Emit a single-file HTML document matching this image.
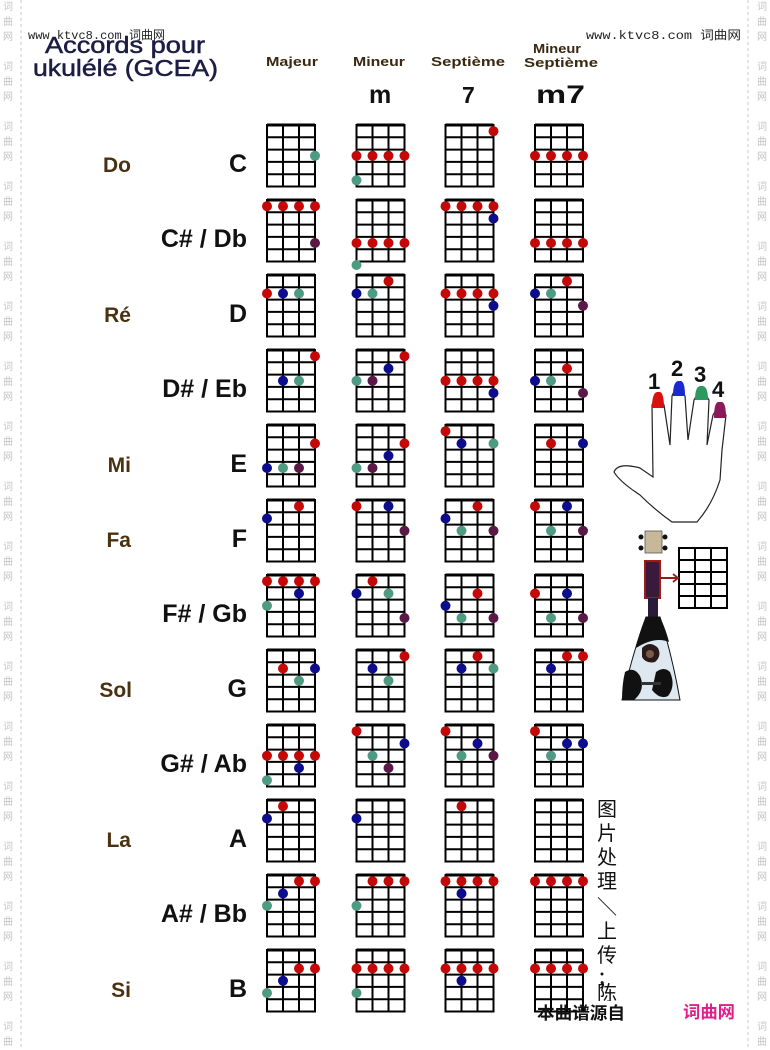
<!DOCTYPE html>
<html><head><meta charset="utf-8"><style>
html,body{margin:0;padding:0;background:#fff;}
svg{display:block;}
text{font-family:"Liberation Sans","Noto Sans CJK SC",sans-serif;}
.r{fill:#c40808}.b{fill:#0c0c8c}.g{fill:#4f9a82}.p{fill:#5a1846}
.wm{fill:#c4c4c4;font-size:10px;font-family:"Noto Sans CJK SC",sans-serif;}
.ch{font-size:25px;font-weight:bold;fill:#111;text-anchor:end;}
.so{font-size:21px;font-weight:bold;fill:#4a3210;text-anchor:end;}
.hd{font-size:13px;font-weight:bold;fill:#3a2810;}
</style></head><body>
<svg width="770" height="1050" viewBox="0 0 770 1050" xmlns="http://www.w3.org/2000/svg">
<defs>
<g id="gr" stroke="#000" stroke-width="2" fill="none">
<rect x="0" y="0" width="48" height="61.5" fill="#fff"/>
<line x1="16" y1="0" x2="16" y2="61.5"/><line x1="32" y1="0" x2="32" y2="61.5"/>
<line x1="0" y1="12.3" x2="48" y2="12.3"/><line x1="0" y1="24.6" x2="48" y2="24.6"/>
<line x1="0" y1="36.9" x2="48" y2="36.9"/><line x1="0" y1="49.2" x2="48" y2="49.2"/>
<line x1="0" y1="0" x2="48" y2="0" stroke-width="3"/>
</g>
<g id="wmg"><text class="wm" x="3" y="10">词</text><text class="wm" x="3" y="25">曲</text><text class="wm" x="3" y="40">网</text></g>
</defs>

<line x1="21" y1="0" x2="21" y2="1050" stroke="#c8c8c8" stroke-dasharray="3,3"/>
<line x1="748" y1="0" x2="748" y2="1050" stroke="#c8c8c8" stroke-dasharray="3,3"/>
<g>
<use href="#wmg" y="0"/><use href="#wmg" y="60"/><use href="#wmg" y="120"/><use href="#wmg" y="180"/><use href="#wmg" y="240"/><use href="#wmg" y="300"/><use href="#wmg" y="360"/><use href="#wmg" y="420"/><use href="#wmg" y="480"/><use href="#wmg" y="540"/><use href="#wmg" y="600"/><use href="#wmg" y="660"/><use href="#wmg" y="720"/><use href="#wmg" y="780"/><use href="#wmg" y="840"/><use href="#wmg" y="900"/><use href="#wmg" y="960"/><use href="#wmg" y="1020"/>
</g>
<g transform="translate(754,0)">
<use href="#wmg" y="0"/><use href="#wmg" y="60"/><use href="#wmg" y="120"/><use href="#wmg" y="180"/><use href="#wmg" y="240"/><use href="#wmg" y="300"/><use href="#wmg" y="360"/><use href="#wmg" y="420"/><use href="#wmg" y="480"/><use href="#wmg" y="540"/><use href="#wmg" y="600"/><use href="#wmg" y="660"/><use href="#wmg" y="720"/><use href="#wmg" y="780"/><use href="#wmg" y="840"/><use href="#wmg" y="900"/><use href="#wmg" y="960"/><use href="#wmg" y="1020"/>
</g>

<text x="45" y="53" font-size="23" fill="#1c1c44" stroke="#1c1c44" stroke-width="0.5" textLength="160" lengthAdjust="spacingAndGlyphs">Accords pour</text>
<text x="33" y="76" font-size="23" fill="#1c1c44" stroke="#1c1c44" stroke-width="0.5" textLength="185" lengthAdjust="spacingAndGlyphs">ukulélé (GCEA)</text>
<text x="28" y="39" font-size="12" fill="#222" style="font-family:'Liberation Mono','Noto Sans CJK SC',monospace" textLength="137" lengthAdjust="spacingAndGlyphs">www.ktvc8.com 词曲网</text>
<text x="586" y="39" font-size="12" fill="#222" style="font-family:'Liberation Mono','Noto Sans CJK SC',monospace" textLength="155" lengthAdjust="spacingAndGlyphs">www.ktvc8.com 词曲网</text>

<text class="hd" x="266" y="66" textLength="52" lengthAdjust="spacingAndGlyphs">Majeur</text>
<text class="hd" x="353" y="66" textLength="52" lengthAdjust="spacingAndGlyphs">Mineur</text>
<text class="hd" x="431" y="66" textLength="74" lengthAdjust="spacingAndGlyphs">Septième</text>
<text class="hd" x="533" y="53" textLength="48" lengthAdjust="spacingAndGlyphs">Mineur</text>
<text class="hd" x="524" y="67" textLength="74" lengthAdjust="spacingAndGlyphs">Septième</text>
<text x="369" y="103" font-size="25" font-weight="bold" fill="#111">m</text>
<text x="462" y="103" font-size="23" font-weight="bold" fill="#111">7</text>
<text x="536" y="103" font-size="25" font-weight="bold" fill="#111" textLength="49" lengthAdjust="spacingAndGlyphs">m7</text>

<text class="so" x="131" y="172">Do</text><text class="ch" x="247" y="172">C</text>
<text class="ch" x="247" y="247">C# / Db</text>
<text class="so" x="131" y="322">Ré</text><text class="ch" x="247" y="322">D</text>
<text class="ch" x="247" y="397">D# / Eb</text>
<text class="so" x="131" y="472">Mi</text><text class="ch" x="247" y="472">E</text>
<text class="so" x="131" y="547">Fa</text><text class="ch" x="247" y="547">F</text>
<text class="ch" x="247" y="622">F# / Gb</text>
<text class="so" x="132" y="697">Sol</text><text class="ch" x="247" y="697">G</text>
<text class="ch" x="247" y="772">G# / Ab</text>
<text class="so" x="131" y="847">La</text><text class="ch" x="247" y="847">A</text>
<text class="ch" x="247" y="922">A# / Bb</text>
<text class="so" x="131" y="997">Si</text><text class="ch" x="247" y="997">B</text>

<g>
<g transform="translate(267,125)"><use href="#gr"/><circle class="g" cx="48" cy="30.8" r="5"/></g>
<g transform="translate(356.5,125)"><use href="#gr"/><circle class="r" cx="0" cy="30.8" r="5"/><circle class="r" cx="16" cy="30.8" r="5"/><circle class="r" cx="32" cy="30.8" r="5"/><circle class="r" cx="48" cy="30.8" r="5"/><circle class="g" cx="0" cy="55.3" r="5"/></g>
<g transform="translate(445.5,125)"><use href="#gr"/><circle class="r" cx="48" cy="6.2" r="5"/></g>
<g transform="translate(535,125)"><use href="#gr"/><circle class="r" cx="0" cy="30.8" r="5"/><circle class="r" cx="16" cy="30.8" r="5"/><circle class="r" cx="32" cy="30.8" r="5"/><circle class="r" cx="48" cy="30.8" r="5"/></g>
<g transform="translate(267,200)"><use href="#gr"/><circle class="r" cx="0" cy="6.2" r="5"/><circle class="r" cx="16" cy="6.2" r="5"/><circle class="r" cx="32" cy="6.2" r="5"/><circle class="r" cx="48" cy="6.2" r="5"/><circle class="p" cx="48" cy="43" r="5"/></g>
<g transform="translate(356.5,200)"><use href="#gr"/><circle class="r" cx="0" cy="43" r="5"/><circle class="r" cx="16" cy="43" r="5"/><circle class="r" cx="32" cy="43" r="5"/><circle class="r" cx="48" cy="43" r="5"/><circle class="g" cx="0" cy="65" r="5"/></g>
<g transform="translate(445.5,200)"><use href="#gr"/><circle class="r" cx="0" cy="6.2" r="5"/><circle class="r" cx="16" cy="6.2" r="5"/><circle class="r" cx="32" cy="6.2" r="5"/><circle class="r" cx="48" cy="6.2" r="5"/><circle class="b" cx="48" cy="18.5" r="5"/></g>
<g transform="translate(535,200)"><use href="#gr"/><circle class="r" cx="0" cy="43" r="5"/><circle class="r" cx="16" cy="43" r="5"/><circle class="r" cx="32" cy="43" r="5"/><circle class="r" cx="48" cy="43" r="5"/></g>
<g transform="translate(267,275)"><use href="#gr"/><circle class="r" cx="0" cy="18.5" r="5"/><circle class="b" cx="16" cy="18.5" r="5"/><circle class="g" cx="32" cy="18.5" r="5"/></g>
<g transform="translate(356.5,275)"><use href="#gr"/><circle class="r" cx="32" cy="6.2" r="5"/><circle class="b" cx="0" cy="18.5" r="5"/><circle class="g" cx="16" cy="18.5" r="5"/></g>
<g transform="translate(445.5,275)"><use href="#gr"/><circle class="r" cx="0" cy="18.5" r="5"/><circle class="r" cx="16" cy="18.5" r="5"/><circle class="r" cx="32" cy="18.5" r="5"/><circle class="r" cx="48" cy="18.5" r="5"/><circle class="b" cx="48" cy="30.8" r="5"/></g>
<g transform="translate(535,275)"><use href="#gr"/><circle class="r" cx="32" cy="6.2" r="5"/><circle class="b" cx="0" cy="18.5" r="5"/><circle class="g" cx="16" cy="18.5" r="5"/><circle class="p" cx="48" cy="30.8" r="5"/></g>
<g transform="translate(267,350)"><use href="#gr"/><circle class="r" cx="48" cy="6.2" r="5"/><circle class="b" cx="16" cy="30.8" r="5"/><circle class="g" cx="32" cy="30.8" r="5"/></g>
<g transform="translate(356.5,350)"><use href="#gr"/><circle class="r" cx="48" cy="6.2" r="5"/><circle class="b" cx="32" cy="18.5" r="5"/><circle class="g" cx="0" cy="30.8" r="5"/><circle class="p" cx="16" cy="30.8" r="5"/></g>
<g transform="translate(445.5,350)"><use href="#gr"/><circle class="r" cx="0" cy="30.8" r="5"/><circle class="r" cx="16" cy="30.8" r="5"/><circle class="r" cx="32" cy="30.8" r="5"/><circle class="r" cx="48" cy="30.8" r="5"/><circle class="b" cx="48" cy="43" r="5"/></g>
<g transform="translate(535,350)"><use href="#gr"/><circle class="r" cx="32" cy="18.5" r="5"/><circle class="b" cx="0" cy="30.8" r="5"/><circle class="g" cx="16" cy="30.8" r="5"/><circle class="p" cx="48" cy="43" r="5"/></g>
<g transform="translate(267,425)"><use href="#gr"/><circle class="r" cx="48" cy="18.5" r="5"/><circle class="b" cx="0" cy="43" r="5"/><circle class="g" cx="16" cy="43" r="5"/><circle class="p" cx="32" cy="43" r="5"/></g>
<g transform="translate(356.5,425)"><use href="#gr"/><circle class="r" cx="48" cy="18.5" r="5"/><circle class="b" cx="32" cy="30.8" r="5"/><circle class="g" cx="0" cy="43" r="5"/><circle class="p" cx="16" cy="43" r="5"/></g>
<g transform="translate(445.5,425)"><use href="#gr"/><circle class="r" cx="0" cy="6.2" r="5"/><circle class="b" cx="16" cy="18.5" r="5"/><circle class="g" cx="48" cy="18.5" r="5"/></g>
<g transform="translate(535,425)"><use href="#gr"/><circle class="r" cx="16" cy="18.5" r="5"/><circle class="b" cx="48" cy="18.5" r="5"/></g>
<g transform="translate(267,500)"><use href="#gr"/><circle class="r" cx="32" cy="6.2" r="5"/><circle class="b" cx="0" cy="18.5" r="5"/></g>
<g transform="translate(356.5,500)"><use href="#gr"/><circle class="r" cx="0" cy="6.2" r="5"/><circle class="b" cx="32" cy="6.2" r="5"/><circle class="p" cx="48" cy="30.8" r="5"/></g>
<g transform="translate(445.5,500)"><use href="#gr"/><circle class="r" cx="32" cy="6.2" r="5"/><circle class="b" cx="0" cy="18.5" r="5"/><circle class="g" cx="16" cy="30.8" r="5"/><circle class="p" cx="48" cy="30.8" r="5"/></g>
<g transform="translate(535,500)"><use href="#gr"/><circle class="r" cx="0" cy="6.2" r="5"/><circle class="b" cx="32" cy="6.2" r="5"/><circle class="g" cx="16" cy="30.8" r="5"/><circle class="p" cx="48" cy="30.8" r="5"/></g>
<g transform="translate(267,575)"><use href="#gr"/><circle class="r" cx="0" cy="6.2" r="5"/><circle class="r" cx="16" cy="6.2" r="5"/><circle class="r" cx="32" cy="6.2" r="5"/><circle class="r" cx="48" cy="6.2" r="5"/><circle class="b" cx="32" cy="18.5" r="5"/><circle class="g" cx="0" cy="30.8" r="5"/></g>
<g transform="translate(356.5,575)"><use href="#gr"/><circle class="r" cx="16" cy="6.2" r="5"/><circle class="b" cx="0" cy="18.5" r="5"/><circle class="g" cx="32" cy="18.5" r="5"/><circle class="p" cx="48" cy="43" r="5"/></g>
<g transform="translate(445.5,575)"><use href="#gr"/><circle class="r" cx="32" cy="18.5" r="5"/><circle class="b" cx="0" cy="30.8" r="5"/><circle class="g" cx="16" cy="43" r="5"/><circle class="p" cx="48" cy="43" r="5"/></g>
<g transform="translate(535,575)"><use href="#gr"/><circle class="r" cx="0" cy="18.5" r="5"/><circle class="b" cx="32" cy="18.5" r="5"/><circle class="g" cx="16" cy="43" r="5"/><circle class="p" cx="48" cy="43" r="5"/></g>
<g transform="translate(267,650)"><use href="#gr"/><circle class="r" cx="16" cy="18.5" r="5"/><circle class="b" cx="48" cy="18.5" r="5"/><circle class="g" cx="32" cy="30.8" r="5"/></g>
<g transform="translate(356.5,650)"><use href="#gr"/><circle class="r" cx="48" cy="6.2" r="5"/><circle class="b" cx="16" cy="18.5" r="5"/><circle class="g" cx="32" cy="30.8" r="5"/></g>
<g transform="translate(445.5,650)"><use href="#gr"/><circle class="r" cx="32" cy="6.2" r="5"/><circle class="b" cx="16" cy="18.5" r="5"/><circle class="g" cx="48" cy="18.5" r="5"/></g>
<g transform="translate(535,650)"><use href="#gr"/><circle class="r" cx="32" cy="6.2" r="5"/><circle class="r" cx="48" cy="6.2" r="5"/><circle class="b" cx="16" cy="18.5" r="5"/></g>
<g transform="translate(267,725)"><use href="#gr"/><circle class="r" cx="0" cy="30.8" r="5"/><circle class="r" cx="16" cy="30.8" r="5"/><circle class="r" cx="32" cy="30.8" r="5"/><circle class="r" cx="48" cy="30.8" r="5"/><circle class="b" cx="32" cy="43" r="5"/><circle class="g" cx="0" cy="55.3" r="5"/></g>
<g transform="translate(356.5,725)"><use href="#gr"/><circle class="r" cx="0" cy="6.2" r="5"/><circle class="b" cx="48" cy="18.5" r="5"/><circle class="g" cx="16" cy="30.8" r="5"/><circle class="p" cx="32" cy="43" r="5"/></g>
<g transform="translate(445.5,725)"><use href="#gr"/><circle class="r" cx="0" cy="6.2" r="5"/><circle class="b" cx="32" cy="18.5" r="5"/><circle class="g" cx="16" cy="30.8" r="5"/><circle class="p" cx="48" cy="30.8" r="5"/></g>
<g transform="translate(535,725)"><use href="#gr"/><circle class="r" cx="0" cy="6.2" r="5"/><circle class="b" cx="32" cy="18.5" r="5"/><circle class="b" cx="48" cy="18.5" r="5"/><circle class="g" cx="16" cy="30.8" r="5"/></g>
<g transform="translate(267,800)"><use href="#gr"/><circle class="r" cx="16" cy="6.2" r="5"/><circle class="b" cx="0" cy="18.5" r="5"/></g>
<g transform="translate(356.5,800)"><use href="#gr"/><circle class="b" cx="0" cy="18.5" r="5"/></g>
<g transform="translate(445.5,800)"><use href="#gr"/><circle class="r" cx="16" cy="6.2" r="5"/></g>
<g transform="translate(535,800)"><use href="#gr"/></g>
<g transform="translate(267,875)"><use href="#gr"/><circle class="r" cx="32" cy="6.2" r="5"/><circle class="r" cx="48" cy="6.2" r="5"/><circle class="b" cx="16" cy="18.5" r="5"/><circle class="g" cx="0" cy="30.8" r="5"/></g>
<g transform="translate(356.5,875)"><use href="#gr"/><circle class="r" cx="16" cy="6.2" r="5"/><circle class="r" cx="32" cy="6.2" r="5"/><circle class="r" cx="48" cy="6.2" r="5"/><circle class="g" cx="0" cy="30.8" r="5"/></g>
<g transform="translate(445.5,875)"><use href="#gr"/><circle class="r" cx="0" cy="6.2" r="5"/><circle class="r" cx="16" cy="6.2" r="5"/><circle class="r" cx="32" cy="6.2" r="5"/><circle class="r" cx="48" cy="6.2" r="5"/><circle class="b" cx="16" cy="18.5" r="5"/></g>
<g transform="translate(535,875)"><use href="#gr"/><circle class="r" cx="0" cy="6.2" r="5"/><circle class="r" cx="16" cy="6.2" r="5"/><circle class="r" cx="32" cy="6.2" r="5"/><circle class="r" cx="48" cy="6.2" r="5"/></g>
<g transform="translate(267,950)"><use href="#gr"/><circle class="r" cx="32" cy="18.5" r="5"/><circle class="r" cx="48" cy="18.5" r="5"/><circle class="b" cx="16" cy="30.8" r="5"/><circle class="g" cx="0" cy="43" r="5"/></g>
<g transform="translate(356.5,950)"><use href="#gr"/><circle class="r" cx="0" cy="18.5" r="5"/><circle class="r" cx="16" cy="18.5" r="5"/><circle class="r" cx="32" cy="18.5" r="5"/><circle class="r" cx="48" cy="18.5" r="5"/><circle class="g" cx="0" cy="43" r="5"/></g>
<g transform="translate(445.5,950)"><use href="#gr"/><circle class="r" cx="0" cy="18.5" r="5"/><circle class="r" cx="16" cy="18.5" r="5"/><circle class="r" cx="32" cy="18.5" r="5"/><circle class="r" cx="48" cy="18.5" r="5"/><circle class="b" cx="16" cy="30.8" r="5"/></g>
<g transform="translate(535,950)"><use href="#gr"/><circle class="r" cx="0" cy="18.5" r="5"/><circle class="r" cx="16" cy="18.5" r="5"/><circle class="r" cx="32" cy="18.5" r="5"/><circle class="r" cx="48" cy="18.5" r="5"/></g>
</g>

<path d="M653,477 L652,405 Q657,392 664,405 L670,445 L672,396 Q678,381 685,396 L688,440 L694,400 Q701,386 709,400 L707,445 L713,415 Q720,402 726,415 L722,450 L720,480 Q712,505 697,522 L672,522 Q655,510 640,495 Q620,482 614,472 Q618,462 640,468 Z" fill="#fff" stroke="#222" stroke-width="1.2"/>
<path d="M652,408 Q652,393 657,392 L660,392 Q664,393 664,408 Z" fill="#d81010"/>
<path d="M673,396 Q673,382 678,381 L681,381 Q685,382 685,396 Z" fill="#1a2ad0"/>
<path d="M695,400 Q695,387 700,386 L703,386 Q708,387 708,400 Z" fill="#2a9a60"/>
<path d="M714,418 Q714,403 718,402 L722,402 Q726,403 726,418 Z" fill="#8a1a5a"/>
<text x="648" y="389" font-size="22" font-weight="bold" fill="#111">1</text>
<text x="671" y="376" font-size="22" font-weight="bold" fill="#111">2</text>
<text x="694" y="382" font-size="22" font-weight="bold" fill="#111">3</text>
<text x="712" y="397" font-size="22" font-weight="bold" fill="#111">4</text>

<rect x="645" y="531" width="17" height="22" fill="#c8b89a" stroke="#555" stroke-width="0.8"/>
<circle cx="641" cy="537" r="2.5" fill="#111"/><circle cx="641" cy="548" r="2.5" fill="#111"/>
<circle cx="665" cy="537" r="2.5" fill="#111"/><circle cx="665" cy="548" r="2.5" fill="#111"/>
<rect x="645" y="561" width="15" height="37" fill="#3a1a3a" stroke="#a01818" stroke-width="2"/>
<rect x="648" y="598" width="10" height="25" fill="#2a1a3a"/>
<path d="M646,617 L660,617 Q672,655 680,700 L622,700 Q632,655 646,617 Z" fill="#dde8f0" stroke="#111" stroke-width="1"/>
<path d="M646,617 L660,617 Q666,630 669,642 Q655,636 636,648 Q640,630 646,617 Z" fill="#111"/>
<path d="M642,648 Q650,640 658,648 Q662,656 655,662 Q646,664 642,657 Z" fill="#2a1a1a"/>
<circle cx="650" cy="654" r="4" fill="#7a5a4a"/>
<path d="M625,672 Q634,666 640,676 Q646,690 634,700 L622,700 Q622,684 625,672 Z" fill="#111"/>
<path d="M656,672 Q664,666 670,672 Q676,686 668,696 Q660,700 652,690 Z" fill="#111"/>
<rect x="641" y="682" width="20" height="3" fill="#333"/>
<rect x="679" y="548" width="48" height="60" fill="#fff" stroke="#000" stroke-width="2"/>
<g stroke="#000" stroke-width="2"><line x1="695" y1="548" x2="695" y2="608"/><line x1="711" y1="548" x2="711" y2="608"/><line x1="679" y1="560" x2="727" y2="560"/><line x1="679" y1="572" x2="727" y2="572"/><line x1="679" y1="584" x2="727" y2="584"/><line x1="679" y1="596" x2="727" y2="596"/></g>
<line x1="660" y1="578" x2="677" y2="578" stroke="#9a1a1a" stroke-width="2"/>
<path d="M673,574 L678,578 L673,582" fill="none" stroke="#9a1a1a" stroke-width="1.8"/>

<g font-size="20" fill="#111" style="font-family:'Noto Sans CJK SC',sans-serif">
<text x="597" y="816">图</text><text x="597" y="840">片</text><text x="597" y="864">处</text><text x="597" y="888">理</text><text x="597" y="914">＼</text><text x="597" y="938">上</text><text x="597" y="962">传</text><text x="597" y="985">；</text><text x="597" y="1000">陈</text>
</g>
<rect x="590" y="1001" width="40" height="20" fill="#fff"/>
<text x="537" y="1019" font-size="17" font-weight="bold" fill="#111" style="font-family:'Noto Sans CJK SC',sans-serif" textLength="88" lengthAdjust="spacingAndGlyphs">本曲谱源自</text>
<text x="683" y="1018" font-size="17" font-weight="bold" fill="#e0208a" style="font-family:'Noto Sans CJK SC',sans-serif" textLength="52" lengthAdjust="spacingAndGlyphs">词曲网</text>
</svg>
</body></html>
